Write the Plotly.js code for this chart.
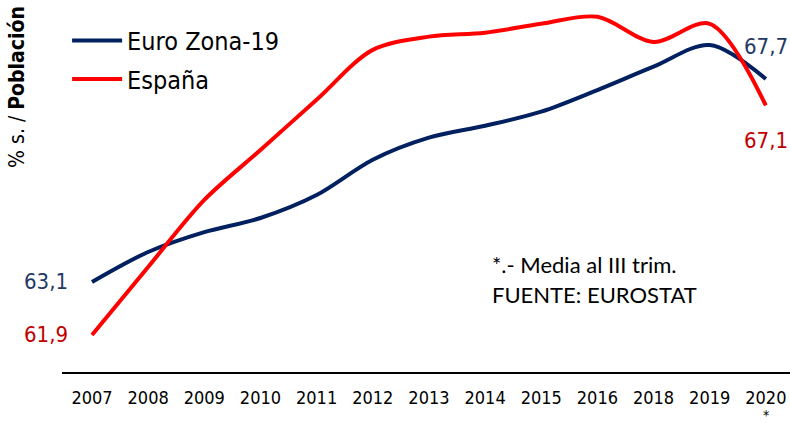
<!DOCTYPE html>
<html>
<head>
<meta charset="utf-8">
<script src="https://cdn.plot.ly/plotly-3.0.1.min.js"></script>
<style>html,body{margin:0;padding:0;background:#fff;}#chart{width:790px;height:424px;}</style>
</head>
<body>
<div id="chart"></div>
<script>
const years = ["2007","2008","2009","2010","2011","2012","2013","2014","2015","2016","2018","2019","2020"];
const tickLabels = ["2007","2008","2009","2010","2011","2012","2013","2014","2015","2016","2018","2019","2020"];
const euroZona = [63.1, 63.78, 64.23, 64.55, 65.07, 65.87, 66.37, 66.64, 66.96, 67.45, 67.98, 68.47, 67.7];
const espana   = [61.9, 63.44, 64.96, 66.09, 67.23, 68.36, 68.66, 68.75, 68.95, 69.11, 68.54, 68.95, 67.1];
const seriesNames = ["Euro Zona-19", "España"];
const noteLines = ["*.- Media al III trim.", "FUENTE: EUROSTAT"];
const fmt = v => v.toFixed(1).replace('.', ',');

const BLUE = '#002060', RED = '#FF0000';
const FONT = 'DejaVu Sans Condensed, DejaVu Sans, sans-serif';

const traces = [
  {x: years, y: euroZona, name: seriesNames[0], legendgroup: 'a', type: 'scatter', mode: 'lines',
   line: {color: BLUE, width: 4, shape: 'spline', smoothing: 0.9}},
  {x: years, y: espana, name: seriesNames[1], legendgroup: 'b', type: 'scatter', mode: 'lines',
   line: {color: RED, width: 4, shape: 'spline', smoothing: 0.9}}
];

const last = years.length - 1;
const annotations = [
  {x: 0, y: euroZona[0], xref: 'x', yref: 'y', text: fmt(euroZona[0]), showarrow: false,
   xanchor: 'right', xshift: -22, font: {family: FONT, size: 22, color: '#1F3864'}},
  {x: 0, y: espana[0], xref: 'x', yref: 'y', text: fmt(espana[0]), showarrow: false,
   xanchor: 'right', xshift: -22, font: {family: FONT, size: 22, color: '#C00000'}},
  {x: last, y: euroZona[last], xref: 'x', yref: 'y', text: fmt(euroZona[last]), showarrow: false,
   xanchor: 'center', yshift: 32, xshift: 0, font: {family: FONT, size: 22, color: '#1F3864'}},
  {x: last, y: espana[last], xref: 'x', yref: 'y', text: fmt(espana[last]), showarrow: false,
   xanchor: 'center', yshift: -35, xshift: 0, font: {family: FONT, size: 22, color: '#C00000'}},
  {x: last, y: 0, xref: 'x', yref: 'paper', text: '*', showarrow: false, yanchor: 'top',
   yshift: -33, xshift: 0, font: {family: FONT, size: 14, color: '#000'}},
  {x: 0.588, y: 0.288, xref: 'paper', yref: 'paper', xanchor: 'left', yanchor: 'middle',
   text: noteLines[0], showarrow: false, font: {family: 'Lato, Open Sans, sans-serif', size: 22, color: '#000'}},
  {x: 0.588, y: 0.207, xref: 'paper', yref: 'paper', xanchor: 'left', yanchor: 'middle',
   text: noteLines[1], showarrow: false, font: {family: 'Lato, Open Sans, sans-serif', size: 22, color: '#000'}},
  {x: -0.062, y: 0.766, xref: 'paper', yref: 'paper', xanchor: 'center', yanchor: 'middle', textangle: -90,
   text: '% s. / <b>Población</b>', showarrow: false,
   font: {family: FONT, size: 21, color: '#000'}}
];

const layout = {
  width: 790, height: 424,
  margin: {l: 62, r: 0, t: 0, b: 52},
  paper_bgcolor: '#fff', plot_bgcolor: '#fff',
  showlegend: true,
  legend: {x: 0.007, y: 0.952, xanchor: 'left', yanchor: 'top', bgcolor: 'rgba(0,0,0,0)',
           font: {family: FONT, size: 25, color: '#000'}, itemwidth: 50,
           traceorder: 'grouped', tracegroupgap: 3},
  xaxis: {type: 'category', range: [-0.534, 12.43], tickvals: years, ticktext: tickLabels,
          showgrid: false, zeroline: false, showline: true, linecolor: '#000', linewidth: 1.5,
          ticks: 'outside', ticklen: 9, tickcolor: 'rgba(0,0,0,0)',
          tickfont: {family: FONT, size: 18, color: '#000'}},
  yaxis: {range: [61.06, 69.49], showgrid: false, zeroline: false, showline: false,
          showticklabels: false, ticks: ''},
  annotations: annotations
};

Plotly.newPlot('chart', traces, layout, {displayModeBar: false, staticPlot: true});
</script>
</body>
</html>
